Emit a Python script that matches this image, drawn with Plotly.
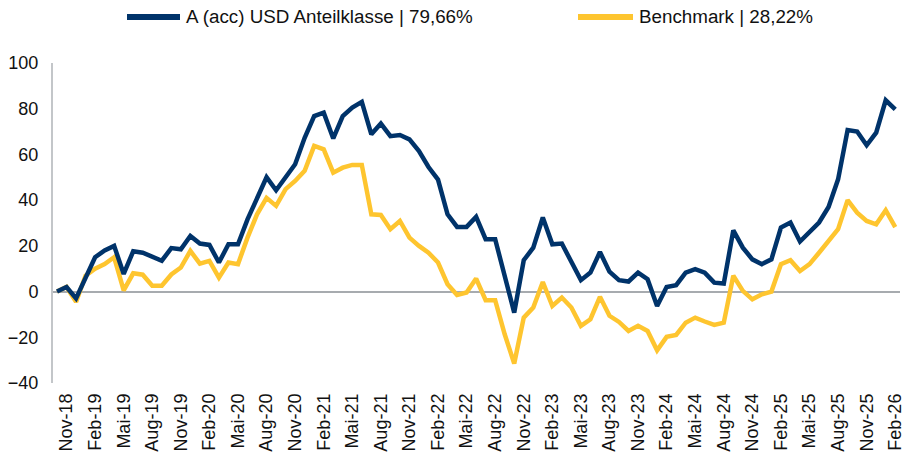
import plotly.graph_objects as go

months = [
    "Okt-18", "Nov-18", "Dez-18",
    "Jan-19", "Feb-19", "Mär-19", "Apr-19", "Mai-19", "Jun-19", "Jul-19", "Aug-19", "Sep-19", "Okt-19", "Nov-19", "Dez-19",
    "Jan-20", "Feb-20", "Mär-20", "Apr-20", "Mai-20", "Jun-20", "Jul-20", "Aug-20", "Sep-20", "Okt-20", "Nov-20", "Dez-20",
    "Jan-21", "Feb-21", "Mär-21", "Apr-21", "Mai-21", "Jun-21", "Jul-21", "Aug-21", "Sep-21", "Okt-21", "Nov-21", "Dez-21",
    "Jan-22", "Feb-22", "Mär-22", "Apr-22", "Mai-22", "Jun-22", "Jul-22", "Aug-22", "Sep-22", "Okt-22", "Nov-22", "Dez-22",
    "Jan-23", "Feb-23", "Mär-23", "Apr-23", "Mai-23", "Jun-23", "Jul-23", "Aug-23", "Sep-23", "Okt-23", "Nov-23", "Dez-23",
    "Jan-24", "Feb-24", "Mär-24", "Apr-24", "Mai-24", "Jun-24", "Jul-24", "Aug-24", "Sep-24", "Okt-24", "Nov-24", "Dez-24",
    "Jan-25", "Feb-25", "Mär-25", "Apr-25", "Mai-25", "Jun-25", "Jul-25", "Aug-25", "Sep-25", "Okt-25", "Nov-25", "Dez-25",
    "Jan-26", "Feb-26",
]

fund = [
    0, 2, -3, 6.5, 15, 18, 20, 7.7, 17.6, 17, 15.3, 13.5, 19, 18.5, 24.3, 21, 20.4, 12.7, 20.7, 20.7,
    31.6, 41, 50, 44.3, 50, 55.7, 67.3, 76.8, 78.3, 67, 76.8, 80.5, 83, 68.8, 73.5, 68, 68.5, 66.6,
    61.5, 54.5, 49, 33.8, 28.3, 28.3, 32.7, 22.9, 22.9, 6.1, -9.2, 13.7, 19.2, 32.4, 20.7, 21, 13.4,
    5, 8.3, 17.3, 8.7, 5, 4.4, 8.3, 5.4, -6.3, 2, 2.8, 8.3, 9.8, 8.3, 3.9, 3.5, 26.8, 19.2, 14.1, 12,
    14.1, 28, 30.2, 21.9, 25.8, 30.2, 37, 49.1, 70.7, 70, 64, 69.5, 83.7, 79.66,
]

benchmark = [
    0, 2, -4.5, 7, 10, 12, 15, 0.5, 8, 7.4, 2.6, 2.6, 7.5, 10.5, 17.8, 12.2, 13.4, 6.1, 12.7, 12,
    23.6, 33.8, 41, 37.5, 44.8, 48.4, 52.8, 63.7, 62.2, 52, 54.2, 55.4, 55.4, 33.8, 33.5, 27.3, 30.9,
    23.6, 20, 17, 12.7, 3.2, -1.5, -0.4, 5.7, -3.8, -3.8, -18.7, -31.5, -11.4, -7, 4.2, -6.3, -2.6,
    -7, -15, -12.1, -2.3, -10.6, -13.3, -17.2, -15, -17.2, -25.7, -19.8, -19, -13.6, -11.4, -13.1,
    -14.6, -13.6, 6.9, 0.3, -3.4, -1.2, 0, 12, 13.7, 9, 12, 17, 22.2, 27.3, 40, 34.5, 30.9, 29.4,
    35.6, 28.22,
]

tick_labels = [
    "Nov-18", "Feb-19", "Mai-19", "Aug-19", "Nov-19", "Feb-20", "Mai-20", "Aug-20", "Nov-20",
    "Feb-21", "Mai-21", "Aug-21", "Nov-21", "Feb-22", "Mai-22", "Aug-22", "Nov-22", "Feb-23",
    "Mai-23", "Aug-23", "Nov-23", "Feb-24", "Mai-24", "Aug-24", "Nov-24", "Feb-25", "Mai-25",
    "Aug-25", "Nov-25", "Feb-26",
]

y_ticks = [-40, -20, 0, 20, 40, 60, 80, 100]

names = ["A (acc) USD Anteilklasse | 79,66%", "Benchmark | 28,22%"]
colors = ["#00336A", "#FEC52F"]

FONT = "Liberation Sans, Arial, sans-serif"
TXT = "#111111"

W, H = 902, 454
ML, MR, MT, MB = 53, 2, 63, 71
PW, PH = W - ML - MR, H - MT - MB


def px_x(p):
    return (p - ML) / PW


def px_y(p):
    return (H - MB - p) / PH


fig = go.Figure()
for name, vals, col in list(zip(names, [fund, benchmark], colors))[::-1]:
    fig.add_trace(go.Scatter(
        x=months, y=vals, mode="lines", name=name,
        line=dict(color=col, width=4.5, shape="linear"),
        showlegend=False,
    ))

# custom legend (sample line + label)
legend_items = [(127, 180, 184), (578, 633, 637)]
for (x0, x1, xt), name, col in zip(legend_items, names, colors):
    fig.add_shape(
        type="line", xref="paper", yref="paper",
        x0=px_x(x0), x1=px_x(x1), y0=px_y(17), y1=px_y(17),
        line=dict(color=col, width=6),
    )
    fig.add_annotation(
        xref="paper", yref="paper", x=px_x(xt), y=px_y(17),
        xanchor="left", yanchor="middle", showarrow=False,
        text=name, font=dict(family=FONT, size=18.8, color=TXT),
    )

fig.update_layout(
    width=W, height=H,
    margin=dict(l=ML, r=MR, t=MT, b=MB, autoexpand=False),
    paper_bgcolor="white", plot_bgcolor="white",
    font=dict(family=FONT, size=18, color=TXT),
    showlegend=False,
    xaxis=dict(
        type="category",
        categoryorder="array", categoryarray=months,
        range=[-0.42, 88.5],
        tickmode="array", tickvals=tick_labels, ticktext=tick_labels,
        tickangle=-90,
        tickfont=dict(family=FONT, size=18, color=TXT),
        showgrid=False, showline=False, zeroline=False,
        ticks="", ticklabelstandoff=6, automargin=False,
    ),
    yaxis=dict(
        range=[-40, 100],
        tickmode="array", tickvals=y_ticks,
        tickfont=dict(family=FONT, size=18, color=TXT),
        showgrid=False,
        zeroline=True, zerolinecolor="#A7ABAF", zerolinewidth=2,
        showline=True, linecolor="#C3C6C9", linewidth=2,
        ticks="", ticklabelstandoff=9, automargin=False,
    ),
)

fig.write_html(
    "out.html",
    config={"displayModeBar": False},
    post_script="document.body.style.margin='0';",
)
